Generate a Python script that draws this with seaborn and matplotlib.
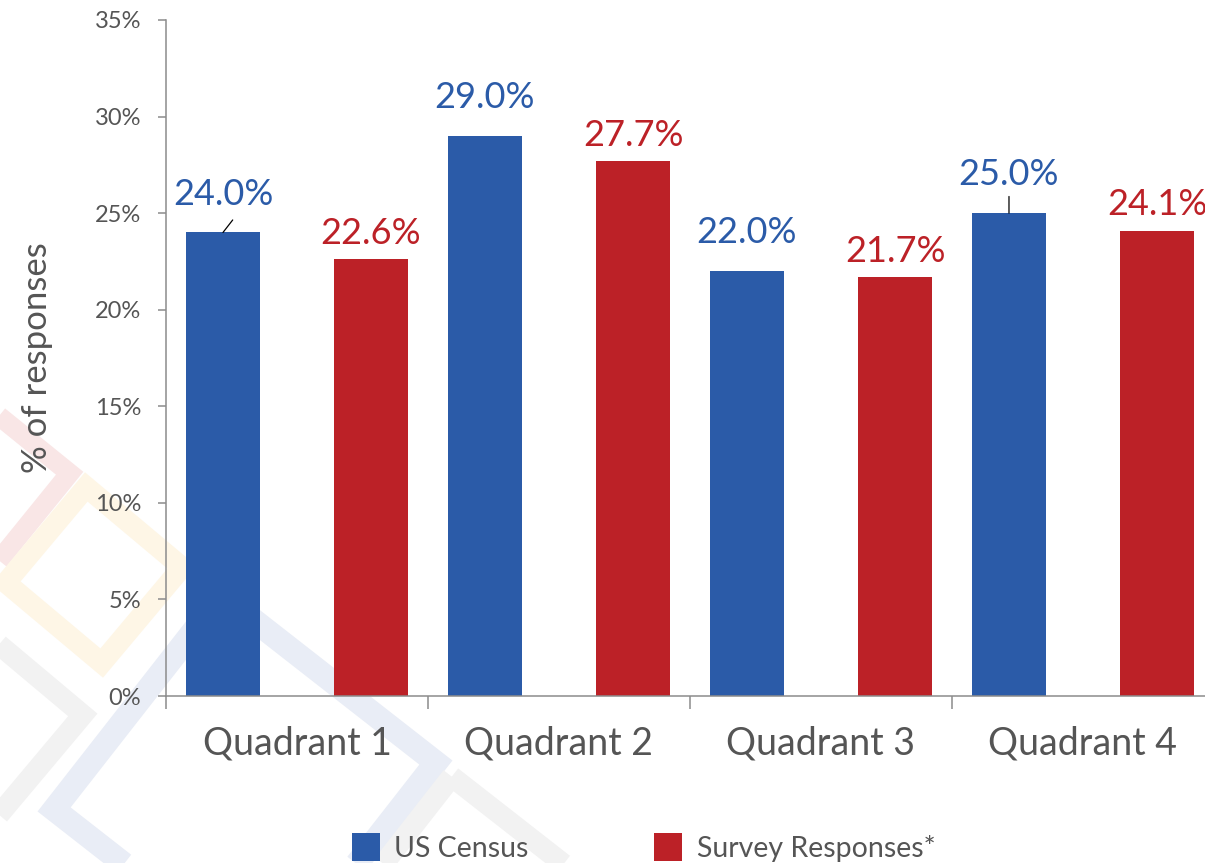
import numpy as np
import pandas as pd
import matplotlib
matplotlib.use("Agg")
import matplotlib.pyplot as plt
from matplotlib.patches import Polygon, Patch
import seaborn as sns

# ==========================================================
#  Data
# ==========================================================
quadrants = ["Quadrant 1", "Quadrant 2", "Quadrant 3", "Quadrant 4"]
us_census = [24.0, 29.0, 22.0, 25.0]
survey_responses = [22.6, 27.7, 21.7, 24.1]
series_names = ["US Census", "Survey Responses*"]
y_ticks = [0, 5, 10, 15, 20, 25, 30, 35]

BLUE = "#2B5BA8"
RED = "#BC2127"
GRAY_TEXT = "#555555"
AXIS_GRAY = "#8C8C8C"

df = pd.DataFrame({
    "quadrant": quadrants * 2,
    "pct": us_census + survey_responses,
    "source": [series_names[0]] * 4 + [series_names[1]] * 4,
})

sns.set_theme(style="white")
plt.rcParams["font.family"] = ["Lato", "DejaVu Sans"]

W, H = 1205, 863
fig = plt.figure(figsize=(W / 100, H / 100), dpi=100)


# ==========================================================
#  Faint background diamonds (decoration)
# ==========================================================
def diamond(cx, cy, side, angle, color, lw):
    t = np.deg2rad(angle)
    u = np.array([np.cos(t), np.sin(t)]) * side / 2
    v = np.array([-np.sin(t), np.cos(t)]) * side / 2
    c = np.array([cx, cy])
    pts = [c - u - v, c + u - v, c + u + v, c - u + v]
    pts = [(p[0] / W, 1 - p[1] / H) for p in pts]
    fig.add_artist(Polygon(pts, closed=True, fill=False, edgecolor=color,
                           linewidth=lw, joinstyle="miter",
                           transform=fig.transFigure, zorder=0))


diamond(-71, 488, 200, 39, "#F9E6E6", 14)
diamond(94, 575, 125, 40, "#FEF6E6", 15)
diamond(-44, 726, 180, 40, "#F2F2F2", 15)
diamond(245, 786, 272, 38, "#E9EDF6", 17)
diamond(469, 917, 200, 38, "#F2F2F2", 15)

# ==========================================================
#  Bars
# ==========================================================
ax = fig.add_axes([166 / W, 167 / H, 1048 / W, 676 / H])
ax.set_facecolor("none")

sns.barplot(data=df, x="quadrant", y="pct", hue="source",
            palette=[BLUE, RED], saturation=1, width=1.13, gap=0.5,
            linewidth=0, legend=False, ax=ax)

ax.set_xlim(-0.5, 3.5)
ax.set_ylim(0, 35)

# value labels
for cont, color, off in zip(ax.containers, [BLUE, RED], [20, 11]):
    for bar in cont:
        h = bar.get_height()
        ax.annotate(f"{h:.1f}%", (bar.get_x() + bar.get_width() / 2, h),
                    xytext=(0, off), textcoords="offset points",
                    ha="center", va="baseline", fontsize=26, color=color)

# leader lines on a couple of census labels
leaders = {0: (7, 9), 3: (0, 12)}
for i, (dx, dy) in leaders.items():
    bar = ax.containers[0][i]
    ax.annotate("", xy=(bar.get_x() + bar.get_width() / 2, bar.get_height()),
                xytext=(dx, dy), textcoords="offset points",
                arrowprops=dict(arrowstyle="-", color="black", lw=0.9,
                                shrinkA=0, shrinkB=0))

# ==========================================================
#  Axes styling
# ==========================================================
sns.despine(ax=ax)
for side in ["left", "bottom"]:
    ax.spines[side].set_color(AXIS_GRAY)
    ax.spines[side].set_linewidth(1.1)

ax.set_yticks(y_ticks)
ax.set_yticklabels([f"{t}%" for t in y_ticks])
ax.tick_params(axis="y", which="major", left=True, length=6, width=1.1,
               color=AXIS_GRAY, pad=12, labelsize=17, labelcolor=GRAY_TEXT)

ax.set_xticks(np.arange(len(quadrants) + 1) - 0.5)
ax.set_xticklabels([])
ax.set_xticks(np.arange(len(quadrants)), minor=True)
ax.set_xticklabels(quadrants, minor=True)
ax.tick_params(axis="x", which="major", bottom=True, length=9, width=1.1,
               color=AXIS_GRAY)
ax.tick_params(axis="x", which="minor", bottom=True, length=0, pad=21,
               labelsize=27, labelcolor=GRAY_TEXT)

ax.set_xlabel("")
ax.set_ylabel("% of responses", fontsize=25, color=GRAY_TEXT, labelpad=30)

# legend
handles = [Patch(facecolor=BLUE, edgecolor="none"),
           Patch(facecolor=RED, edgecolor="none")]
fig.legend(handles, series_names, loc="center", bbox_to_anchor=(0.534, 0.018),
           ncol=2, frameon=False, fontsize=20.5, labelcolor=GRAY_TEXT,
           handlelength=1.0, handleheight=1.1, handletextpad=0.5,
           columnspacing=4.4)

fig.savefig("out.png", dpi=100)
